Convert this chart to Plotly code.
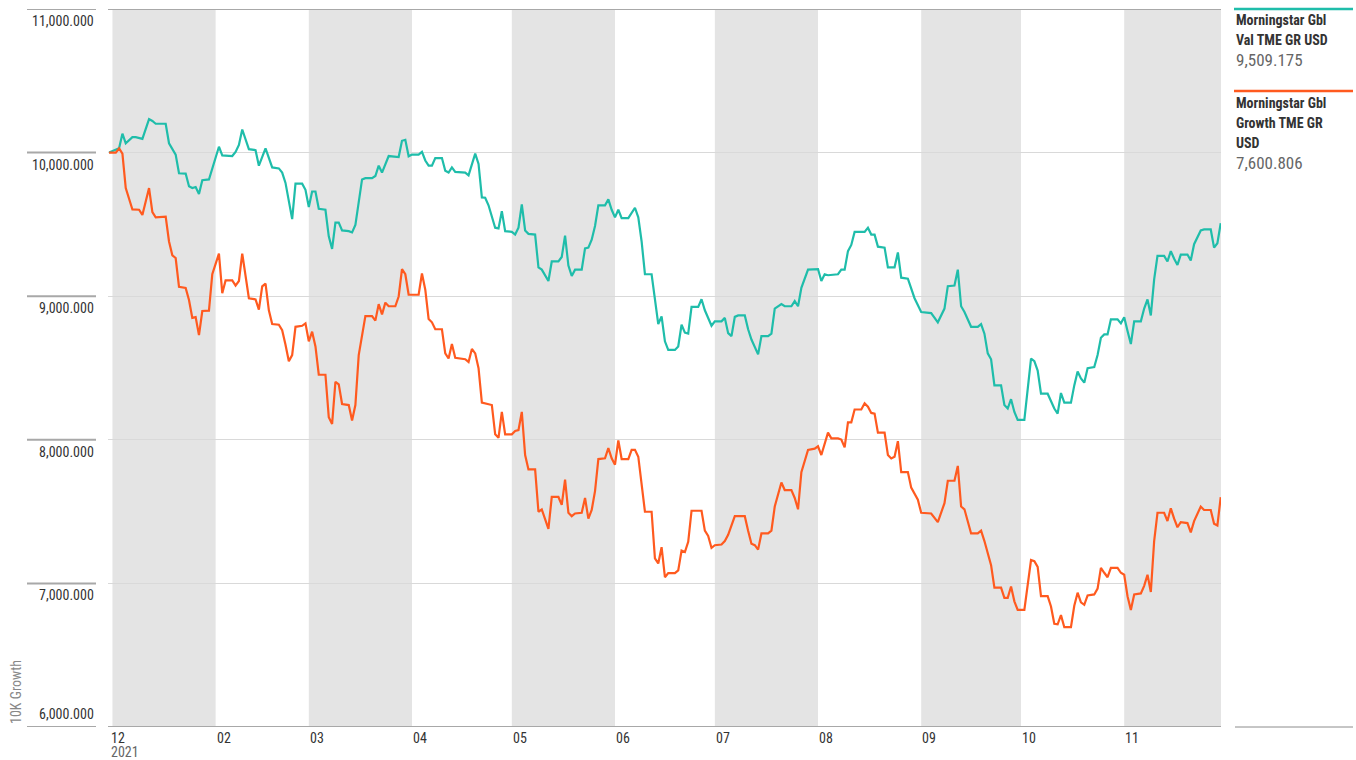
import pandas as pd
import plotly.graph_objects as go

# ---- data: growth of 10K, day offsets counted from 2021-01-01 ----
start_date = "2021-01-01"

val_days = [-1, 2, 3, 4, 6, 7, 9, 11, 12, 13, 16, 17, 19, 20, 22, 23, 24, 25, 26, 27, 29, 32, 33, 36, 37, 38, 39,
            41, 43, 44, 46, 48, 50, 51, 52, 54, 55, 57, 58, 59, 60, 61, 62, 64, 65, 66, 67, 68, 69, 71, 72, 73,
            75, 76, 78, 79, 80, 81, 83, 85, 86, 87, 88, 89, 90, 92, 93, 94, 95, 96, 97, 99, 100, 101, 102, 103,
            106, 107, 109, 110, 111, 112, 113, 115, 116, 117, 118, 120, 121, 122, 123, 124, 125, 127, 128, 129,
            131, 132, 134, 135, 136, 137, 138, 139, 141, 142, 143, 144, 145, 146, 148, 149, 150, 151, 152, 153,
            155, 157, 158, 159, 160, 162, 163, 164, 165, 166, 167, 169, 170, 171, 172, 173, 174, 176, 177, 178,
            180, 181, 183, 184, 185, 186, 187, 188, 190, 191, 192, 194, 195, 197, 198, 199, 201, 202, 204, 205,
            206, 207, 209, 212, 213, 214, 215, 218, 219, 220, 221, 222, 223, 226, 227, 228, 229, 230, 232, 233,
            235, 236, 237, 239, 241, 243, 246, 247, 248, 250, 251, 253, 254, 255, 256, 258, 260, 261, 262, 263,
            264, 265, 267, 268, 269, 270, 271, 272, 274, 276, 277, 278, 279, 281, 282, 283, 284, 285, 286, 288,
            289, 290, 291, 292, 293, 295, 296, 297, 298, 299, 300, 302, 303, 304, 305, 306, 307, 309, 310, 311,
            312, 313, 314, 316, 317, 318, 319, 320, 321, 323, 324, 325, 327, 328, 330, 331, 332, 333]
val_values = [10000, 10030, 10132, 10065, 10108, 10108, 10096, 10233, 10220, 10201, 10201, 10065, 9986, 9856,
              9854, 9765, 9753, 9760, 9712, 9808, 9813, 10041, 9981, 9976, 10005, 10053, 10161, 10024, 10017,
              9909, 10029, 9897, 9890, 9861, 9789, 9537, 9784, 9784, 9741, 9621, 9729, 9729, 9609, 9602, 9417,
              9329, 9513, 9513, 9458, 9453, 9444, 9496, 9813, 9822, 9822, 9837, 9909, 9861, 9976, 9969, 9969,
              10082, 10089, 9974, 9986, 9986, 10005, 9945, 9909, 9909, 9962, 9962, 9873, 9861, 9897, 9866,
              9861, 9842, 9993, 9921, 9688, 9686, 9633, 9477, 9472, 9592, 9453, 9448, 9429, 9477, 9640, 9458,
              9434, 9429, 9201, 9185, 9106, 9242, 9242, 9273, 9422, 9213, 9141, 9185, 9185, 9333, 9338, 9393,
              9489, 9633, 9633, 9674, 9602, 9549, 9602, 9544, 9544, 9616, 9549, 9381, 9153, 9153, 8974, 8806,
              8859, 8686, 8626, 8626, 8650, 8801, 8746, 8739, 8926, 8926, 8979, 8902, 8794, 8825, 8825, 8849,
              8743, 8722, 8856, 8866, 8866, 8770, 8698, 8595, 8722, 8722, 8739, 8914, 8945, 8930, 8930, 8966,
              8930, 9058, 9185, 9189, 9106, 9153, 9146, 9153, 9185, 9185, 9314, 9357, 9448, 9448, 9477, 9429,
              9429, 9345, 9338, 9201, 9201, 9305, 9129, 9122, 8986, 8890, 8882, 8854, 8818, 8914, 9070, 9074,
              9185, 8930, 8890, 8787, 8787, 8806, 8739, 8602, 8561, 8379, 8379, 8242, 8218, 8283, 8194, 8139,
              8139, 8566, 8547, 8482, 8321, 8321, 8273, 8218, 8182, 8326, 8259, 8259, 8379, 8475, 8427, 8398,
              8499, 8506, 8590, 8710, 8734, 8734, 8839, 8839, 8811, 8854, 8758, 8667, 8825, 8825, 8914, 8978,
              8866, 9117, 9281, 9281, 9242, 9314, 9261, 9218, 9290, 9290, 9249, 9362, 9458, 9465, 9465, 9338,
              9369, 9509.175]

growth_days = [-1, 1, 2, 3, 4, 5, 6, 8, 9, 11, 12, 13, 16, 17, 18, 19, 20, 22, 23, 24, 25, 26, 27, 29, 30, 32,
               33, 34, 36, 37, 38, 39, 41, 43, 44, 45, 46, 47, 48, 50, 51, 52, 53, 54, 55, 57, 58, 59, 60, 61,
               62, 64, 65, 66, 67, 68, 69, 71, 72, 73, 74, 76, 78, 79, 80, 81, 82, 83, 85, 86, 87, 88, 89, 92,
               93, 94, 95, 96, 97, 99, 100, 101, 102, 103, 106, 107, 108, 109, 110, 111, 112, 114, 115, 116, 117,
               118, 120, 121, 122, 123, 124, 125, 127, 128, 129, 130, 131, 132, 134, 135, 136, 137, 138, 139,
               141, 142, 143, 144, 145, 146, 148, 149, 150, 151, 152, 153, 155, 156, 157, 158, 160, 162, 163,
               164, 165, 166, 167, 169, 170, 171, 172, 173, 174, 177, 178, 179, 180, 181, 183, 184, 185, 187,
               190, 191, 192, 193, 194, 195, 197, 198, 199, 201, 202, 204, 205, 206, 207, 209, 211, 212, 213,
               215, 216, 218, 219, 220, 221, 222, 223, 225, 226, 227, 228, 229, 230, 232, 233, 234, 235, 236,
               237, 239, 240, 242, 243, 246, 247, 248, 250, 251, 253, 254, 255, 256, 258, 260, 261, 262, 264,
               265, 267, 268, 269, 270, 271, 272, 274, 276, 277, 278, 279, 281, 282, 283, 284, 285, 286, 288,
               289, 290, 291, 292, 293, 295, 296, 297, 298, 299, 300, 302, 303, 304, 305, 306, 307, 309, 310,
               311, 312, 313, 314, 316, 317, 318, 319, 320, 321, 323, 324, 325, 327, 328, 330, 331, 332, 333]
growth_values = [10000, 10000, 10029, 9993, 9753, 9681, 9604, 9602, 9566, 9753, 9585, 9549, 9554, 9381, 9285,
                 9266, 9065, 9058, 8974, 8849, 8854, 8729, 8897, 8899, 9153, 9297, 9021, 9110, 9110, 9074, 9106,
                 9297, 8986, 8978, 8906, 9069, 9088, 8902, 8806, 8801, 8763, 8662, 8547, 8590, 8787, 8794, 8811,
                 8686, 8753, 8650, 8453, 8453, 8158, 8110, 8403, 8386, 8249, 8242, 8134, 8242, 8590, 8861, 8861,
                 8830, 8945, 8873, 8955, 8930, 8930, 8998, 9189, 9153, 9010, 9010, 9158, 9045, 8842, 8818, 8770,
                 8770, 8602, 8566, 8667, 8571, 8561, 8542, 8633, 8602, 8499, 8259, 8254, 8242, 8038, 8014, 8194,
                 8038, 8038, 8062, 8067, 8194, 7894, 7794, 7794, 7499, 7515, 7451, 7379, 7602, 7602, 7547, 7722,
                 7492, 7468, 7487, 7492, 7595, 7451, 7511, 7643, 7866, 7871, 7942, 7871, 7827, 7995, 7866, 7866,
                 7930, 7930, 7882, 7499, 7499, 7175, 7139, 7252, 7043, 7072, 7072, 7091, 7228, 7218, 7290, 7506,
                 7506, 7367, 7331, 7247, 7266, 7271, 7295, 7338, 7468, 7468, 7367, 7276, 7266, 7235, 7348, 7348,
                 7367, 7535, 7703, 7650, 7650, 7595, 7516, 7775, 7930, 7938, 7955, 7894, 8050, 8010, 8010, 8002,
                 7947, 8122, 8122, 8211, 8211, 8254, 8230, 8187, 8182, 8050, 8050, 7894, 7870, 7882, 7990, 7775,
                 7775, 7667, 7583, 7492, 7487, 7458, 7427, 7559, 7715, 7715, 7818, 7535, 7516, 7348, 7348, 7367,
                 7295, 7127, 6971, 6971, 6899, 6899, 6978, 6875, 6815, 6815, 7163, 7155, 7115, 6911, 6911, 6839,
                 6719, 6715, 6779, 6695, 6695, 6844, 6935, 6868, 6851, 6916, 6923, 6964, 7108, 7074, 7043, 7108,
                 7108, 7074, 7060, 6911, 6815, 6923, 6930, 6983, 7060, 6940, 7295, 7492, 7492, 7434, 7523, 7451,
                 7391, 7427, 7420, 7355, 7434, 7535, 7511, 7511, 7415, 7403, 7600.806]

series_name_lines = [["Morningstar Gbl", "Val TME GR USD"], ["Morningstar Gbl", "Growth TME GR", "USD"]]
series_last = ["9,509.175", "7,600.806"]
series_colors = ["#1FBDAA", "#FF5A1F"]

y_ticks = [6000, 7000, 8000, 9000, 10000, 11000]
y_tick_labels = ["6,000.000", "7,000.000", "8,000.000", "9,000.000", "10,000.000", "11,000.000"]
month_starts = ["2021-02-01", "2021-03-01", "2021-04-01", "2021-05-01", "2021-06-01",
                "2021-07-01", "2021-08-01", "2021-09-01", "2021-10-01", "2021-11-01"]
month_labels = ["02", "03", "04", "05", "06", "07", "08", "09", "10", "11"]
shaded_months = [("2021-01-01", "2021-02-01"), ("2021-03-01", "2021-04-01"), ("2021-05-01", "2021-06-01"),
                 ("2021-07-01", "2021-08-01"), ("2021-09-01", "2021-10-01"), ("2021-11-01", "2021-11-30 02:00")]

# ---- layout geometry (pixels) ----
W, H = 1356, 760
PL, PR, PT, PB = 108, 1221, 9, 727
X_RANGE = ["2020-12-30 16:00", "2021-11-30 02:00"]
Y_RANGE = [6000, 11000]

FONT = "Liberation Sans Narrow, Roboto Condensed, Arial Narrow, Roboto, sans-serif"


def px_x(px):
    return (px - PL) / (PR - PL)


def px_y(py):
    return (PB - py) / (PB - PT)


base = pd.Timestamp(start_date)
val_dates = base + pd.to_timedelta(val_days, unit="D")
growth_dates = base + pd.to_timedelta(growth_days, unit="D")

fig = go.Figure()
fig.add_trace(go.Scatter(x=val_dates, y=val_values, mode="lines",
                         line=dict(color=series_colors[0], width=2.2), name="Val", showlegend=False))
fig.add_trace(go.Scatter(x=growth_dates, y=growth_values, mode="lines",
                         line=dict(color=series_colors[1], width=2.2), name="Growth", showlegend=False))

shapes = []
# alternating month bands
for x0, x1 in shaded_months:
    shapes.append(dict(type="rect", xref="x", yref="paper", x0=x0, x1=x1, y0=0, y1=1,
                       fillcolor="#E4E4E4", line=dict(width=0), layer="below"))
# top and bottom frame lines
for yv in (Y_RANGE[0], Y_RANGE[1]):
    shapes.append(dict(type="line", xref="paper", yref="y", x0=0, x1=1, y0=yv, y1=yv,
                       line=dict(color="#A8A8A8", width=2), layer="above"))
# tick stubs on the left
for yv in y_ticks:
    shapes.append(dict(type="line", xref="paper", yref="y", x0=px_x(27), x1=px_x(96), y0=yv, y1=yv,
                       line=dict(color="#A8A8A8", width=2)))
# legend swatches
shapes.append(dict(type="line", xref="paper", yref="paper", x0=px_x(1234), x1=px_x(1353),
                   y0=px_y(9), y1=px_y(9), line=dict(color=series_colors[0], width=2.5)))
shapes.append(dict(type="line", xref="paper", yref="paper", x0=px_x(1234), x1=px_x(1353),
                   y0=px_y(91), y1=px_y(91), line=dict(color=series_colors[1], width=2.5)))
shapes.append(dict(type="line", xref="paper", yref="paper", x0=px_x(1235), x1=px_x(1353),
                   y0=px_y(727), y1=px_y(727), line=dict(color="#8C8C8C", width=1)))

annotations = []
# y tick labels: under their stub lines, except the bottom one which sits above
for yv, lab in zip(y_ticks, y_tick_labels):
    below = yv != Y_RANGE[0]
    annotations.append(dict(xref="paper", yref="y", x=px_x(96), y=yv, text=lab, showarrow=False,
                            xanchor="right", yanchor="top" if below else "bottom",
                            yshift=-2 if below else 3,
                            font=dict(family=FONT, size=14, color="#333333")))
# x labels
annotations.append(dict(xref="paper", yref="paper", x=px_x(109), y=px_y(738), text="12", showarrow=False,
                        xanchor="left", yanchor="middle", font=dict(family=FONT, size=14, color="#333333")))
annotations.append(dict(xref="paper", yref="paper", x=px_x(109), y=px_y(752), text="2021", showarrow=False,
                        xanchor="left", yanchor="middle", font=dict(family=FONT, size=14, color="#666666")))
for d, lab in zip(month_starts, month_labels):
    annotations.append(dict(xref="x", yref="paper", x=d, y=px_y(738), text=lab, showarrow=False,
                            xanchor="left", yanchor="middle", xshift=-1,
                            font=dict(family=FONT, size=14, color="#333333")))
# axis title
annotations.append(dict(xref="paper", yref="paper", x=px_x(16), y=px_y(726), text="10K Growth",
                        showarrow=False, textangle=-90, xanchor="center", yanchor="bottom",
                        font=dict(family=FONT, size=14, color="#888888")))
# legend text, one annotation per line
legend_tops = [20, 103]
for lines, last, top in zip(series_name_lines, series_last, legend_tops):
    for i, txt in enumerate(lines):
        annotations.append(dict(xref="paper", yref="paper", x=px_x(1234), y=px_y(top + 20 * i),
                                text="<b>" + txt + "</b>", showarrow=False, xanchor="left", yanchor="middle",
                                font=dict(family=FONT, size=14, color="#333333")))
    annotations.append(dict(xref="paper", yref="paper", x=px_x(1234), y=px_y(top + 20 * len(lines)),
                            text=last, showarrow=False, xanchor="left", yanchor="middle",
                            font=dict(family=FONT, size=17, color="#666666")))

fig.update_layout(
    width=W, height=H,
    margin=dict(l=PL, r=W - PR, t=PT, b=H - PB, pad=0),
    paper_bgcolor="white", plot_bgcolor="white",
    showlegend=False,
    xaxis=dict(type="date", range=X_RANGE, showgrid=False, showticklabels=False, zeroline=False,
               showline=False, ticks=""),
    yaxis=dict(range=Y_RANGE, tickvals=y_ticks, showticklabels=False, showgrid=True,
               gridcolor="#D9D9D9", gridwidth=1, zeroline=False, showline=False, ticks=""),
    shapes=shapes,
    annotations=annotations,
)

fig.write_html("out.html")
